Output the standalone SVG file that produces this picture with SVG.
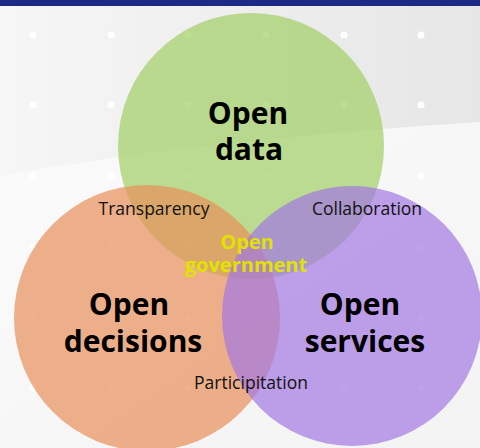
<svg xmlns="http://www.w3.org/2000/svg" width="480" height="448" viewBox="0 0 480 448">
  <defs>
    <linearGradient id="bg" x1="0" y1="0" x2="1" y2="0">
      <stop offset="0" stop-color="#f6f6f6"/>
      <stop offset="1" stop-color="#e6e6e6"/>
    </linearGradient>
    <linearGradient id="bg2" x1="0" y1="0" x2="1" y2="1">
      <stop offset="0" stop-color="#fbfbfb"/>
      <stop offset="1" stop-color="#f3f3f3"/>
    </linearGradient>
  </defs>
  <style>
    .dot { fill: #ffffff; }
    .circ { opacity: 0.7; }
    .big { font-family: "Open Sans", Lato, "Liberation Sans", sans-serif; font-weight: bold; font-size: 30px; fill: #000; text-anchor: middle; }
    .small { font-family: "Open Sans", Lato, "Liberation Sans", sans-serif; font-size: 17.5px; fill: #111; text-anchor: middle; }
    .gov { font-family: "Open Sans", Lato, "Liberation Sans", sans-serif; font-weight: bold; font-size: 20px; fill: #e2e200; text-anchor: middle; }
  </style>

  <!-- background -->
  <rect x="0" y="0" width="480" height="448" fill="url(#bg)"/>
  <path d="M0,176 Q200,140 480,122 L480,448 L0,448 Z" fill="url(#bg2)"/>
  <rect x="0" y="0" width="480" height="6" fill="#1b2a85"/>

  <g id="dots">
    <circle class="dot" cx="33" cy="35" r="3.5"/><circle class="dot" cx="111" cy="35" r="3.5"/><circle class="dot" cx="188" cy="35" r="3.5"/><circle class="dot" cx="266" cy="35" r="3.5"/><circle class="dot" cx="344" cy="35" r="3.5"/><circle class="dot" cx="421" cy="35" r="3.5"/>
    <circle class="dot" cx="33" cy="105" r="3.5"/><circle class="dot" cx="111" cy="105" r="3.5"/><circle class="dot" cx="188" cy="105" r="3.5"/><circle class="dot" cx="266" cy="105" r="3.5"/><circle class="dot" cx="344" cy="105" r="3.5"/><circle class="dot" cx="421" cy="105" r="3.5"/>
    <circle class="dot" cx="33" cy="176" r="3.5"/><circle class="dot" cx="111" cy="176" r="3.5"/><circle class="dot" cx="188" cy="176" r="3.5"/><circle class="dot" cx="266" cy="176" r="3.5"/><circle class="dot" cx="344" cy="176" r="3.5"/><circle class="dot" cx="421" cy="176" r="3.5"/>
    <circle class="dot" cx="33" cy="247" r="3.5"/><circle class="dot" cx="111" cy="247" r="3.5"/><circle class="dot" cx="188" cy="247" r="3.5"/><circle class="dot" cx="266" cy="247" r="3.5"/><circle class="dot" cx="344" cy="247" r="3.5"/><circle class="dot" cx="421" cy="247" r="3.5"/>
    <circle class="dot" cx="33" cy="318" r="3.5"/><circle class="dot" cx="111" cy="318" r="3.5"/><circle class="dot" cx="188" cy="318" r="3.5"/><circle class="dot" cx="266" cy="318" r="3.5"/><circle class="dot" cx="344" cy="318" r="3.5"/><circle class="dot" cx="421" cy="318" r="3.5"/>
    <circle class="dot" cx="33" cy="388" r="3.5"/><circle class="dot" cx="111" cy="388" r="3.5"/><circle class="dot" cx="188" cy="388" r="3.5"/><circle class="dot" cx="266" cy="388" r="3.5"/><circle class="dot" cx="344" cy="388" r="3.5"/><circle class="dot" cx="421" cy="388" r="3.5"/>
  </g>

  <g id="open-data">
    <circle class="circ" cx="251" cy="146" r="133" fill="#a0ce64"/>
  </g>
  <g id="open-decisions">
    <circle class="circ" cx="147" cy="318" r="133" fill="#e8905a"/>
  </g>
  <g id="open-services">
    <circle class="circ" cx="352" cy="316" r="130" fill="#a378e2"/>
  </g>

  <g id="labels">
    <text class="big" x="248" y="124">Open</text>
    <text class="big" x="249" y="160">data</text>
    <text class="big" x="129" y="315">Open</text>
    <text class="big" x="133" y="352">decisions</text>
    <text class="big" x="360" y="315">Open</text>
    <text class="big" x="365" y="352">services</text>
    <text class="small" x="154" y="215">Transparency</text>
    <text class="small" x="367" y="215">Collaboration</text>
    <text class="small" x="251" y="389">Participitation</text>
    <text class="gov" x="247" y="249">Open</text>
    <text class="gov" x="246" y="272">government</text>
  </g>
</svg>
